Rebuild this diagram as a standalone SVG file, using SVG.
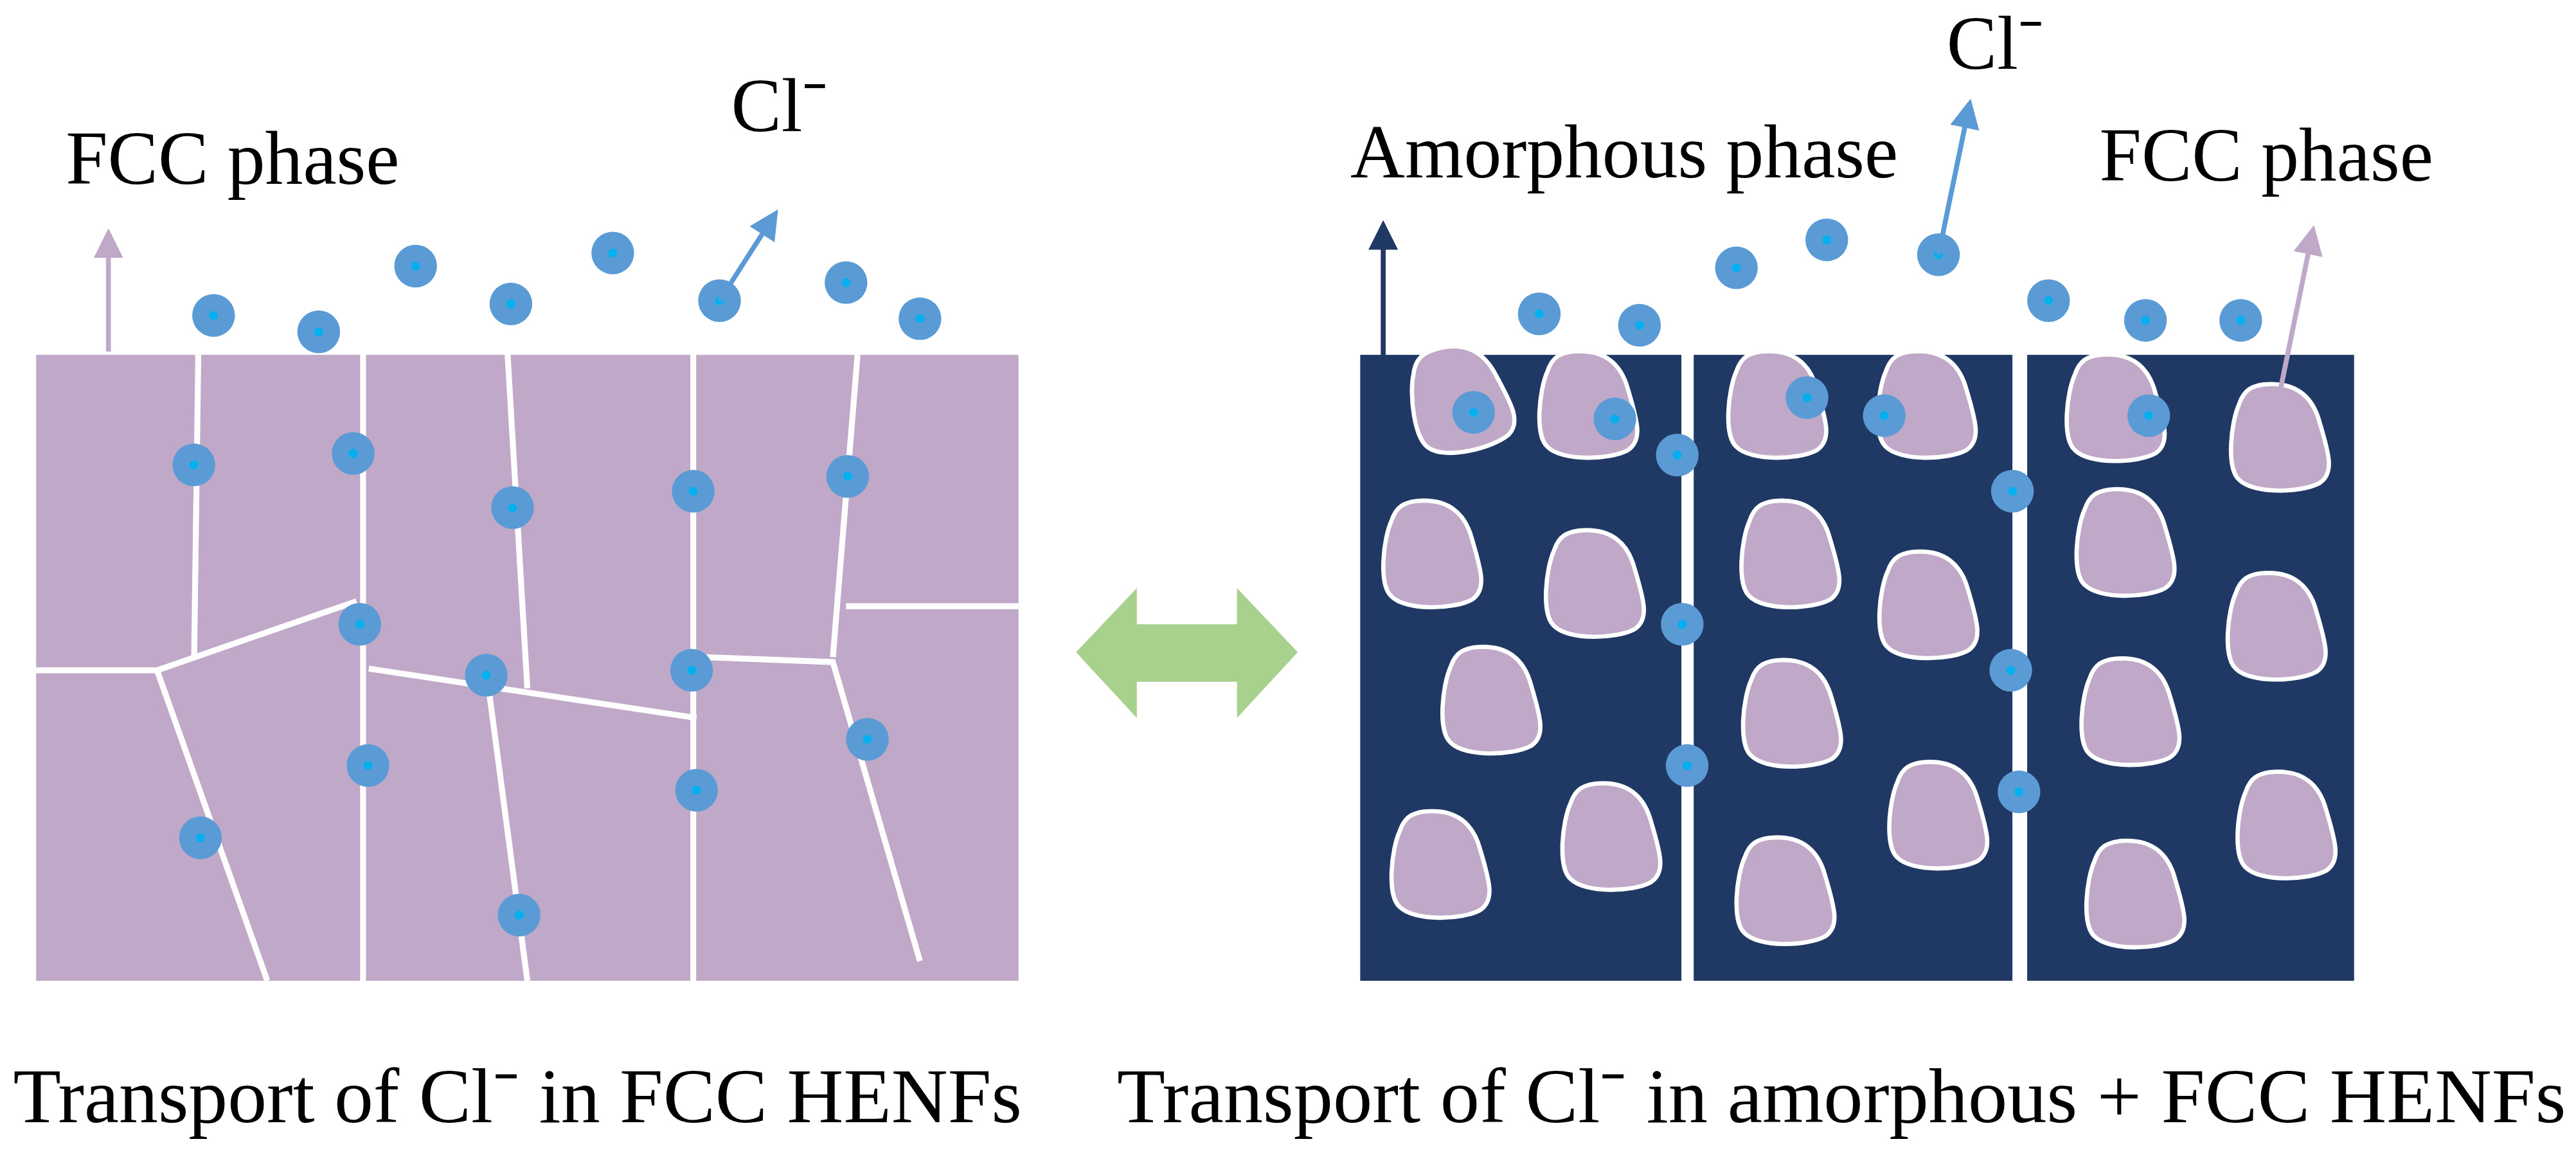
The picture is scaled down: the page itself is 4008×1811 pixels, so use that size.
<svg xmlns="http://www.w3.org/2000/svg" width="4008" height="1811" viewBox="0 0 4008 1811">
<style>
.gb{stroke:#fff;stroke-width:3.6;fill:none;stroke-linecap:butt}
.grain{fill:#c0a8c8;stroke:#fff;stroke-width:2.6}
.t{font-family:"Liberation Serif",serif;fill:#000}
</style>
<defs>
<path id="grain" class="grain" d="M -11,-32 C 9,-34 19,-24 23,-9 C 29,11 32,22 23,28 C 12,34 -17,35 -26,26 C -34,19 -31,-9 -26,-20 C -23,-29 -18,-31 -11,-32 Z"/>
<marker id="mL" markerWidth="6" markerHeight="6" refX="5" refY="3" orient="auto"><path d="M0,0 L6,3 L0,6 Z" fill="#c0a8c8"/></marker>
<marker id="mB" markerWidth="6" markerHeight="6" refX="5" refY="3" orient="auto"><path d="M0,0 L6,3 L0,6 Z" fill="#5b9bd5"/></marker>
<marker id="mN" markerWidth="6" markerHeight="6" refX="5" refY="3" orient="auto"><path d="M0,0 L6,3 L0,6 Z" fill="#203864"/></marker>
</defs>
<rect width="4008" height="1811" fill="#fff"/>
<g transform="scale(2.556)">
<g id="fcc-block">
<rect x="22" y="216" width="598" height="381" fill="#c0a8c8"/>
<path class="gb" d="M120.7,216 L118.2,399 M221,216 L221,597 M309,216 L321,419 M422,216 L422,597 M522,216 L507,400 M515,369 L620,369 M22,408 L95.6,408 L217,366 M95.6,408 L162.7,597 M224.5,407 L424,437 M296.6,412.5 L321,597 M428.5,400 L507,403 L560,585"/>
</g>
<g id="amorphous-block">
<rect x="828" y="216" width="195.5" height="381" fill="#203864"/>
<rect x="1031" y="216" width="194" height="381" fill="#203864"/>
<rect x="1234" y="216" width="199" height="381" fill="#203864"/>
<use href="#grain" transform="translate(890,242) rotate(-12)"/>
<use href="#grain" x="968" y="246"/>
<use href="#grain" x="1083" y="246"/>
<use href="#grain" x="1174" y="246"/>
<use href="#grain" x="1289" y="248"/>
<use href="#grain" x="1389" y="266"/>
<use href="#grain" x="873" y="337"/>
<use href="#grain" x="972" y="355"/>
<use href="#grain" x="1091" y="337"/>
<use href="#grain" x="1175" y="368"/>
<use href="#grain" x="1295" y="330"/>
<use href="#grain" x="1387" y="381"/>
<use href="#grain" x="909" y="426"/>
<use href="#grain" x="1092" y="434"/>
<use href="#grain" x="1298" y="433"/>
<use href="#grain" x="878" y="526"/>
<use href="#grain" x="982" y="509"/>
<use href="#grain" x="1088" y="542"/>
<use href="#grain" x="1181" y="496"/>
<use href="#grain" x="1301" y="544"/>
<use href="#grain" x="1393" y="502"/>
</g>
<g id="ions">
<g fill="#5b9bd5">
<circle cx="130" cy="192" r="13"/><circle cx="194" cy="202" r="13"/><circle cx="253" cy="162" r="13"/><circle cx="311" cy="185" r="13"/><circle cx="373" cy="154" r="13"/><circle cx="438" cy="183" r="13"/><circle cx="515" cy="172" r="13"/><circle cx="560" cy="194" r="13"/>
<circle cx="118" cy="283" r="13"/><circle cx="215" cy="276" r="13"/><circle cx="312" cy="309" r="13"/><circle cx="422" cy="299" r="13"/><circle cx="516" cy="290" r="13"/><circle cx="219" cy="380" r="13"/><circle cx="296" cy="411" r="13"/><circle cx="421" cy="408" r="13"/><circle cx="224" cy="466" r="13"/><circle cx="528" cy="450" r="13"/><circle cx="424" cy="481" r="13"/><circle cx="122" cy="510" r="13"/><circle cx="316" cy="557" r="13"/>
<circle cx="937" cy="191" r="13"/><circle cx="998" cy="198" r="13"/><circle cx="1057" cy="163" r="13"/><circle cx="1112" cy="146" r="13"/><circle cx="1180" cy="155" r="13"/><circle cx="1247" cy="183" r="13"/><circle cx="1306" cy="195" r="13"/><circle cx="1364" cy="195" r="13"/>
<circle cx="897" cy="251" r="13"/><circle cx="983" cy="255" r="13"/><circle cx="1100" cy="242" r="13"/><circle cx="1147" cy="253" r="13"/><circle cx="1308" cy="253" r="13"/><circle cx="1021" cy="277" r="13"/><circle cx="1225" cy="299" r="13"/><circle cx="1024" cy="380" r="13"/><circle cx="1224" cy="408" r="13"/><circle cx="1027" cy="466" r="13"/><circle cx="1229" cy="482" r="13"/>
</g>
<g fill="#00b0f0">
<circle cx="130" cy="192" r="2.7"/><circle cx="194" cy="202" r="2.7"/><circle cx="253" cy="162" r="2.7"/><circle cx="311" cy="185" r="2.7"/><circle cx="373" cy="154" r="2.7"/><circle cx="438" cy="183" r="2.7"/><circle cx="515" cy="172" r="2.7"/><circle cx="560" cy="194" r="2.7"/>
<circle cx="118" cy="283" r="2.7"/><circle cx="215" cy="276" r="2.7"/><circle cx="312" cy="309" r="2.7"/><circle cx="422" cy="299" r="2.7"/><circle cx="516" cy="290" r="2.7"/><circle cx="219" cy="380" r="2.7"/><circle cx="296" cy="411" r="2.7"/><circle cx="421" cy="408" r="2.7"/><circle cx="224" cy="466" r="2.7"/><circle cx="528" cy="450" r="2.7"/><circle cx="424" cy="481" r="2.7"/><circle cx="122" cy="510" r="2.7"/><circle cx="316" cy="557" r="2.7"/>
<circle cx="937" cy="191" r="2.7"/><circle cx="998" cy="198" r="2.7"/><circle cx="1057" cy="163" r="2.7"/><circle cx="1112" cy="146" r="2.7"/><circle cx="1180" cy="155" r="2.7"/><circle cx="1247" cy="183" r="2.7"/><circle cx="1306" cy="195" r="2.7"/><circle cx="1364" cy="195" r="2.7"/>
<circle cx="897" cy="251" r="2.7"/><circle cx="983" cy="255" r="2.7"/><circle cx="1100" cy="242" r="2.7"/><circle cx="1147" cy="253" r="2.7"/><circle cx="1308" cy="253" r="2.7"/><circle cx="1021" cy="277" r="2.7"/><circle cx="1225" cy="299" r="2.7"/><circle cx="1024" cy="380" r="2.7"/><circle cx="1224" cy="408" r="2.7"/><circle cx="1027" cy="466" r="2.7"/><circle cx="1229" cy="482" r="2.7"/>
</g>
</g>
<g id="connectors" stroke-width="3" fill="none">
<line x1="66" y1="214" x2="66" y2="142" stroke="#c0a8c8" marker-end="url(#mL)"/>
<line x1="438" y1="183" x2="472" y2="130" stroke="#5b9bd5" marker-end="url(#mB)"/>
<line x1="842" y1="216" x2="842" y2="137" stroke="#203864" marker-end="url(#mN)"/>
<line x1="1180" y1="155" x2="1199" y2="63" stroke="#5b9bd5" marker-end="url(#mB)"/>
<line x1="1388" y1="238" x2="1408" y2="140" stroke="#c0a8c8" marker-end="url(#mL)"/>
<path id="double-arrow" d="M655,397 L692,358 L692,380 L753,380 L753,358 L790,397 L753,437 L753,415 L692,415 L692,437 Z" fill="#a9d18e" stroke="none"/>
</g>
<g id="labels" font-size="46">
<text class="t" x="40" y="112">FCC phase</text>
<text class="t" x="445" y="80">Cl⁻</text>
<text class="t" x="822" y="108">Amorphous phase</text>
<text class="t" x="1185" y="42">Cl⁻</text>
<text class="t" x="1278" y="110">FCC phase</text>
<text class="t" x="8" y="683" font-size="47" textLength="614" lengthAdjust="spacingAndGlyphs">Transport of Cl⁻ in FCC HENFs</text>
<text class="t" x="680" y="683" font-size="47" textLength="882" lengthAdjust="spacingAndGlyphs">Transport of Cl⁻ in amorphous + FCC HENFs</text>
</g>
</g>
</svg>
